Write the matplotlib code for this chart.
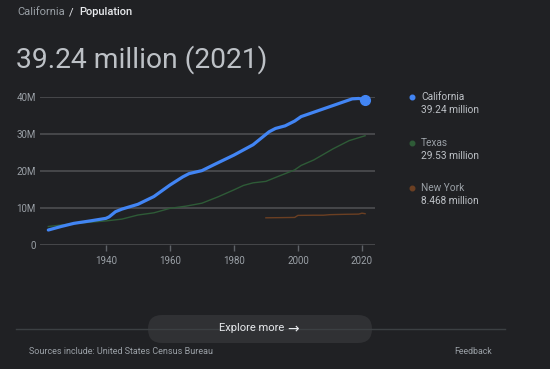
import matplotlib
matplotlib.use("Agg")
import matplotlib.pyplot as plt
from matplotlib.patches import FancyBboxPatch

plt.rcParams['font.family'] = ['Roboto', 'DejaVu Sans']

# population, millions
ca_years = [1922, 1926, 1930, 1935, 1940, 1941, 1943, 1945, 1950, 1955, 1960, 1964, 1966,
            1970, 1974, 1980, 1986, 1991, 1993, 1996, 1999, 2001, 2006, 2012, 2017, 2019, 2021]
ca_pop = [4.05, 5.0, 5.85, 6.5, 7.2, 7.6, 9.0, 9.7, 11.0, 13.1, 16.2, 18.4, 19.3,
          20.1, 21.8, 24.3, 27.1, 30.6, 31.5, 32.2, 33.5, 34.7, 36.2, 38.0, 39.5, 39.6, 39.24]

tx_years = [1922, 1930, 1940, 1945, 1950, 1955, 1960, 1965, 1970, 1975, 1980, 1983, 1986,
            1990, 1994, 1999, 2001, 2005, 2011, 2016, 2021]
tx_pop = [5.0, 5.8, 6.5, 7.0, 8.1, 8.7, 9.9, 10.5, 11.3, 13.0, 14.9, 16.1, 16.8,
          17.2, 18.6, 20.3, 21.5, 23.0, 26.0, 28.2, 29.53]

ny_years = [1990, 1995, 1999, 2000, 2005, 2008, 2010, 2015, 2019, 2020, 2021]
ny_pop = [7.35, 7.4, 7.45, 8.0, 8.05, 8.05, 8.2, 8.3, 8.35, 8.6, 8.468]

names = ["California", "Texas", "New York"]
latest = ["39.24 million", "29.53 million", "8.468 million"]
colors = ["#4285f4", "#2e5b37", "#6b3f22"]

y_ticks = [0, 10, 20, 30, 40]
y_labels = ["0", "10M", "20M", "30M", "40M"]
x_ticks = [1940, 1960, 1980, 2000, 2020]

BG = "#202124"
W, H = 550, 369

fig = plt.figure(figsize=(W / 100, H / 100), dpi=100, facecolor=BG)

# overlay in pixel coordinates for the card decorations
bg = fig.add_axes([0, 0, 1, 1])
bg.set_xlim(0, W)
bg.set_ylim(H, 0)
bg.axis("off")

# header
bg.text(17, 12, "California", color="#9aa0a6", fontsize=8, va="center")
bg.text(69, 12, "/", color="#e8eaed", fontsize=8, va="center")
bg.text(79, 12, "Population", color="#e8eaed", fontsize=8, va="center", weight="medium")
bg.text(16, 60, "39.24 million (2021)", color="#bdc1c6", fontsize=20.3, va="center")

ax = fig.add_axes([40 / W, 1 - 245 / H, 335 / W, 148 / H])
ax.set_facecolor("none")
ax.set_xlim(1919.4, 2024.1)
ax.set_ylim(0, 40)
for s in ax.spines.values():
    s.set_visible(False)
ax.set_yticks(y_ticks)
ax.set_yticklabels(y_labels)
ax.set_xticks(x_ticks)
ax.grid(axis="y", color="#47484b", lw=1.4)
ax.tick_params(axis="y", length=0, pad=3, labelsize=7, labelcolor="#9aa0a6")
ax.tick_params(axis="x", length=4, width=1, color="#5f6368", pad=4, labelsize=7, labelcolor="#9aa0a6")
ax.set_axisbelow(True)

ax.plot(ny_years, ny_pop, color=colors[2], lw=1.0, clip_on=False)
ax.plot(tx_years, tx_pop, color=colors[1], lw=1.0, clip_on=False)
ax.plot(ca_years, ca_pop, color=colors[0], lw=2.3, clip_on=False, solid_capstyle="round")
ax.plot(ca_years[-1], ca_pop[-1], "o", color=colors[0], ms=7, clip_on=False)

# legend
leg_y = [97, 143, 188]
for name, val, c, y in zip(names, latest, colors, leg_y):
    bg.plot(412, y, "o", color=c, ms=3.3)
    bg.text(421, y, name, color="#bdc1c6" if name == "California" else "#9aa0a6",
            fontsize=7.3, va="center")
    bg.text(421, y + 13, val, color="#bdc1c6", fontsize=7.3, va="center")

# footer
bg.plot([16, 505], [329, 329], color="#3c4043", lw=1)
btn = FancyBboxPatch((148, 315), 224, 28, boxstyle="round,pad=0,rounding_size=14",
                     facecolor="#303134", edgecolor="none")
bg.add_patch(btn)
bg.text(219, 328, "Explore more", color="#e8eaed", fontsize=8, va="center")
bg.text(293, 329, "\u2192", color="#e8eaed", fontsize=10, va="center", ha="center")
bg.text(29, 352, "Sources include: United States Census Bureau", color="#9aa0a6",
        fontsize=6.45, va="center")
bg.text(492, 352, "Feedback", color="#9aa0a6", fontsize=6.3, va="center", ha="right")

fig.savefig("out.png", dpi=100, facecolor=BG)
